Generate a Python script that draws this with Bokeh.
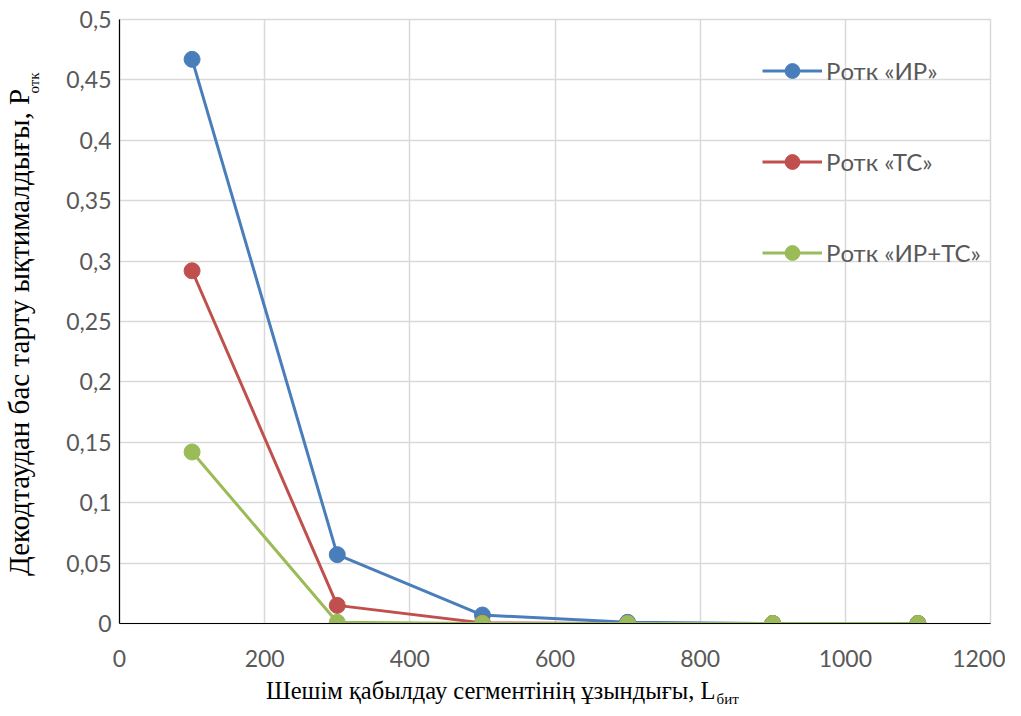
from bokeh.plotting import figure
from bokeh.models import (Legend, LegendItem, FixedTicker, Title,
                          CustomJSTickFormatter, Range1d)
from bokeh.embed import file_html
from bokeh.resources import INLINE

# ---- data ----
x_len = [100, 300, 500, 700, 900, 1100]
p_ir = [0.467, 0.057, 0.007, 0.001, 0.0, 0.0]
p_tc = [0.292, 0.015, 0.0005, 0.0, 0.0, 0.0]
p_irtc = [0.142, 0.001, 0.0001, 0.0, 0.0, 0.0]
series_names = ["Pотк «ИР»", "Pотк «ТС»", "Pотк «ИР+ТС»"]
series_colors = ["#4A7EBB", "#C0504D", "#9BBB59"]
x_ticks = [0, 200, 400, 600, 800, 1000, 1200]
y_ticks = [0, 0.05, 0.1, 0.15, 0.2, 0.25, 0.3, 0.35, 0.4, 0.45, 0.5]
x_title = "Шешім қабылдау сегментінің ұзындығы, L"
x_title_sub = "бит"
y_title = "Декодтаудан бас тарту ықтималдығы, P"
y_title_sub = "отк"

NB = "\u00a0"

p = figure(width=1005, height=708, output_backend="svg", toolbar_location=None,
           x_range=Range1d(0, 1200), y_range=Range1d(0, 0.5),
           min_border_left=117, min_border_right=15, min_border_top=19,
           min_border_bottom=85)
p.background_fill_color = "white"
p.border_fill_color = "white"
p.outline_line_color = "#d9d9d9"
p.outline_line_width = 1.5

for ax, ticks in ((p.xaxis, x_ticks), (p.yaxis, y_ticks)):
    ax.ticker = FixedTicker(ticks=ticks)
    ax.axis_line_color = "black"
    ax.axis_line_width = 1.2
    ax.major_tick_line_color = None
    ax.minor_tick_line_color = None
    ax.major_tick_out = 0
    ax.major_tick_in = 0
    ax.major_label_text_font = "Lato"
    ax.major_label_text_font_size = "23px"
    ax.major_label_text_color = "#595959"
    ax.axis_label_text_font = "Liberation Serif"
    ax.axis_label_text_font_style = "normal"
    ax.axis_label_text_color = "black"

p.yaxis.formatter = CustomJSTickFormatter(
    code="return (Math.round(tick*100)/100).toString().replace('.', ',');")
p.yaxis.major_label_standoff = 8
p.xaxis.major_label_standoff = 26

# main axis titles (padding shifts the visible text off-centre like the reference)
p.xaxis.axis_label = x_title + NB * 21
p.xaxis.axis_label_text_font_size = "24.5px"
p.xaxis.axis_label_standoff = 7
p.yaxis.axis_label = y_title + NB * 3
p.yaxis.axis_label_text_font_size = "29px"
p.yaxis.axis_label_standoff = 28

p.xgrid.ticker = FixedTicker(ticks=x_ticks)
p.ygrid.ticker = FixedTicker(ticks=y_ticks)
p.grid.grid_line_color = "#d9d9d9"
p.grid.grid_line_width = 1.5

items = []
for name, ys, col in zip(series_names, [p_ir, p_tc, p_irtc], series_colors):
    ln = p.line(x_len, ys, line_color=col, line_width=3)
    sc = p.scatter(x_len, ys, marker="circle", size=16, fill_color=col,
                   line_color=col)
    items.append(LegendItem(label=name, renderers=[ln, sc]))

legend = Legend(items=items, location=(643, 352), orientation="vertical",
                glyph_width=60, glyph_height=37, label_height=37, spacing=54,
                padding=0, margin=0, border_line_color=None,
                background_fill_alpha=0, label_text_font="Lato",
                label_text_font_size="24px", label_text_color="#595959",
                label_standoff=4)
p.add_layout(legend)


def sub_title(text, offset, standoff, valign):
    kw = dict(text=text, align="left", offset=offset, vertical_align=valign,
              text_font="Liberation Serif", text_font_size="15px",
              text_font_style="normal", text_color="black")
    try:
        return Title(standoff=standoff, **kw)
    except Exception:
        return Title(standoff=0, **kw)


p.add_layout(sub_title(x_title_sub, 597, -32, "top"), "below")
p.add_layout(sub_title(y_title_sub, 530, -83, "bottom"), "left")

open("out.html", "w").write(file_html(p, INLINE))
